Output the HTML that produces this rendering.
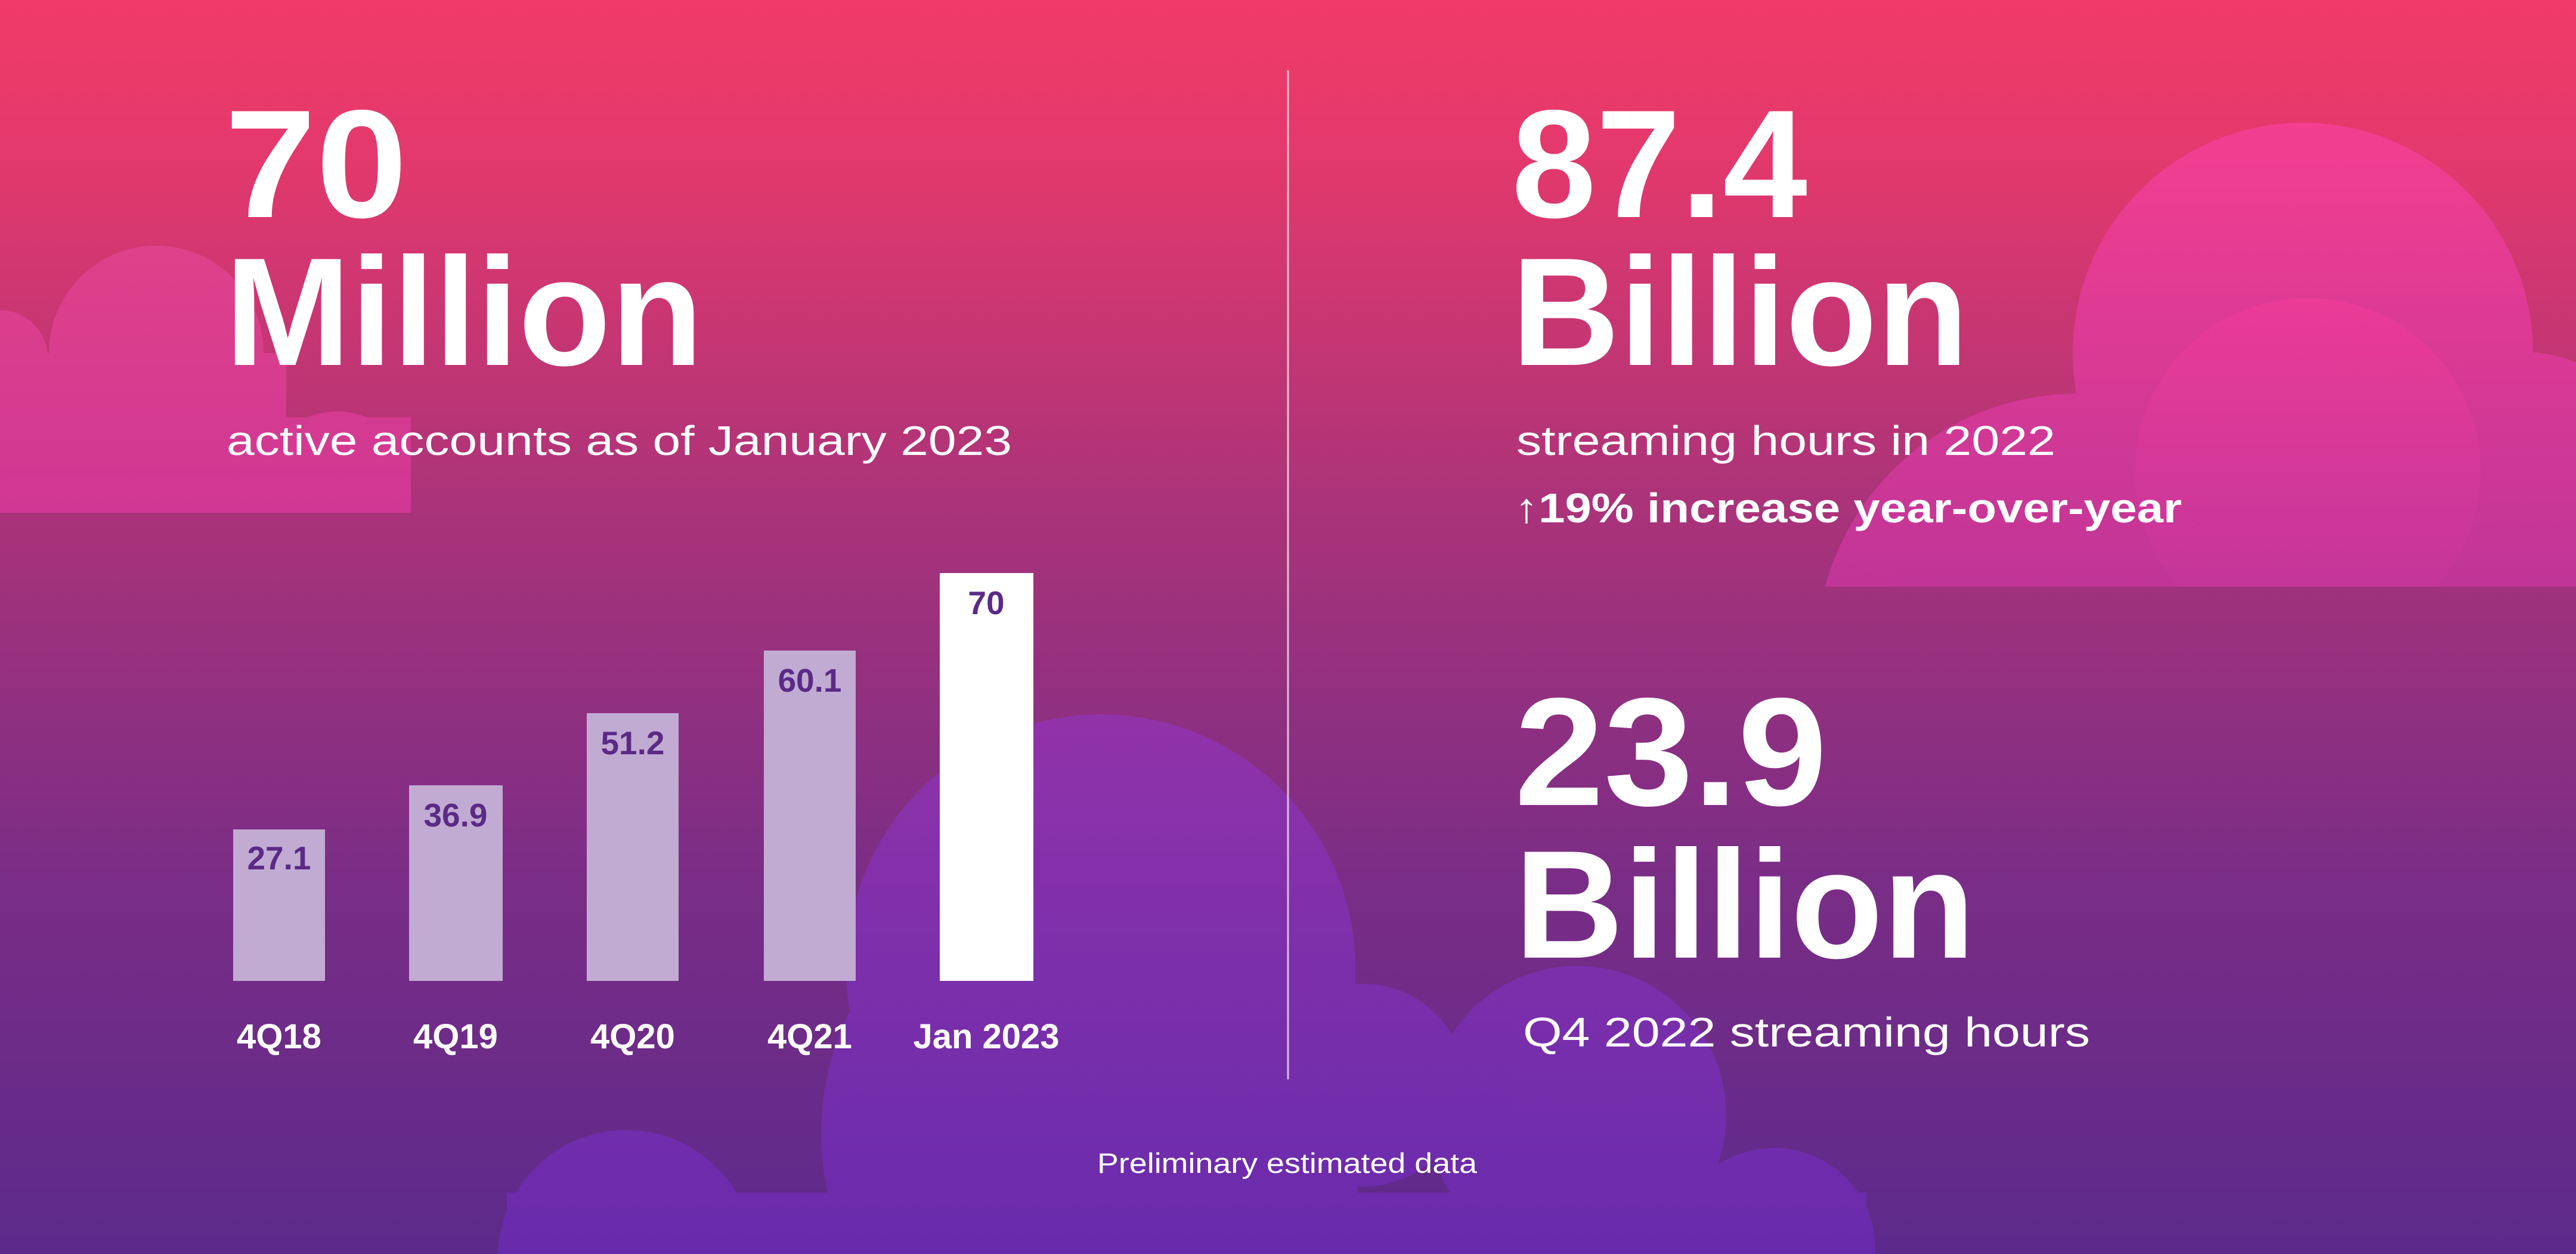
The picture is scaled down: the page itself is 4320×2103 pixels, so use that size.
<!DOCTYPE html>
<html><head><meta charset="utf-8"><style>
html,body{margin:0;padding:0;width:4320px;height:2103px;overflow:hidden}
svg{display:block}
text{font-family:"Liberation Sans",sans-serif;fill:#fff}
</style></head><body>
<svg width="4320" height="2103" viewBox="0 0 4320 2103" xmlns="http://www.w3.org/2000/svg">
<defs>
<linearGradient id="bg" x1="0" y1="0" x2="0" y2="1">
<stop offset="0" stop-color="#f03a68"/>
<stop offset="0.12" stop-color="#e4396c"/>
<stop offset="0.4" stop-color="#ab3379"/>
<stop offset="0.7" stop-color="#7a2d86"/>
<stop offset="1" stop-color="#5c2a8b"/>
</linearGradient>
<linearGradient id="cl" gradientUnits="userSpaceOnUse" x1="0" y1="410" x2="0" y2="860">
<stop offset="0" stop-color="#e0448e"/>
<stop offset="1" stop-color="#d8389a"/>
</linearGradient>
<linearGradient id="cr" gradientUnits="userSpaceOnUse" x1="0" y1="200" x2="0" y2="984">
<stop offset="0" stop-color="#f7409a"/>
<stop offset="1" stop-color="#c9369f"/>
</linearGradient>
<linearGradient id="cr2" gradientUnits="userSpaceOnUse" x1="0" y1="400" x2="0" y2="984">
<stop offset="0" stop-color="#ff3d98"/>
<stop offset="1" stop-color="#c8369e"/>
</linearGradient>
<linearGradient id="cb" gradientUnits="userSpaceOnUse" x1="0" y1="1200" x2="0" y2="2103">
<stop offset="0" stop-color="#9234b6"/>
<stop offset="1" stop-color="#6c2cb8"/>
</linearGradient>
<clipPath id="clipL"><rect x="0" y="0" width="689" height="860"/></clipPath>
<clipPath id="clipR"><rect x="0" y="0" width="4320" height="984"/></clipPath>
</defs>
<rect width="4320" height="2103" fill="url(#bg)"/>
<!-- left cloud -->
<g fill="url(#cl)" opacity="0.85" clip-path="url(#clipL)">
<circle cx="262" cy="592" r="180"/>
<circle cx="0" cy="600" r="80"/>
<circle cx="565" cy="820" r="130"/>
<rect x="0" y="592" width="480" height="268"/>
<rect x="480" y="700" width="209" height="160"/>
</g>
<!-- right cloud -->
<g fill="url(#cr)" opacity="0.8" clip-path="url(#clipR)">
<circle cx="3862" cy="592" r="386"/>
<circle cx="3485" cy="1100" r="440"/>
<circle cx="4230" cy="830" r="240"/>
<rect x="3300" y="700" width="1020" height="284"/>
</g>
<g fill="url(#cr2)" opacity="0.5" clip-path="url(#clipR)">
<circle cx="3870" cy="790" r="290"/>
</g>
<!-- bottom clouds -->
<g fill="url(#cb)" opacity="0.75">
<circle cx="1846" cy="1625" r="427"/>
<circle cx="1832" cy="1900" r="455"/>
<circle cx="2287" cy="1820" r="170"/>
<circle cx="2645" cy="1870" r="250"/>
<circle cx="2975" cy="2095" r="170"/>
<circle cx="1050" cy="2110" r="215"/>
<rect x="850" y="2000" width="2280" height="103"/>
</g>
<!-- divider -->
<line x1="2160" y1="118" x2="2160" y2="1810" stroke="#fff" stroke-opacity="0.7" stroke-width="3"/>
<!-- left text -->
<text x="377" y="364" font-size="258" font-weight="bold" textLength="306" lengthAdjust="spacingAndGlyphs">70</text>
<text x="377" y="612" font-size="258" font-weight="bold" textLength="802" lengthAdjust="spacingAndGlyphs">Million</text>
<text x="380" y="763" font-size="70" textLength="1317" lengthAdjust="spacingAndGlyphs">active accounts as of January 2023</text>
<!-- bars -->
<g fill="#c2abd3">
<rect x="391" y="1391" width="154" height="254"/>
<rect x="686" y="1317" width="157" height="328"/>
<rect x="984" y="1196" width="154" height="449"/>
<rect x="1281" y="1091" width="154" height="554"/>
</g>
<rect x="1576" y="961" width="157" height="684" fill="#fff"/>
<g font-size="55" font-weight="bold" text-anchor="middle">
<text x="468" y="1458" style="fill:#5b2a86">27.1</text>
<text x="764" y="1386" style="fill:#5b2a86">36.9</text>
<text x="1061" y="1265" style="fill:#5b2a86">51.2</text>
<text x="1358" y="1160" style="fill:#5b2a86">60.1</text>
<text x="1654" y="1030" style="fill:#5b2a86">70</text>
</g>
<g font-size="58" font-weight="bold" text-anchor="middle">
<text x="468" y="1758">4Q18</text>
<text x="764" y="1758">4Q19</text>
<text x="1061" y="1758">4Q20</text>
<text x="1358" y="1758">4Q21</text>
<text x="1654" y="1758">Jan 2023</text>
</g>
<!-- right text -->
<text x="2535" y="364" font-size="258" font-weight="bold" textLength="496" lengthAdjust="spacingAndGlyphs">87.4</text>
<text x="2535" y="612" font-size="258" font-weight="bold" textLength="766" lengthAdjust="spacingAndGlyphs">Billion</text>
<text x="2543" y="763" font-size="70" textLength="904" lengthAdjust="spacingAndGlyphs">streaming hours in 2022</text>
<text x="2540" y="876" font-size="70" font-weight="bold" textLength="1119" lengthAdjust="spacingAndGlyphs">↑19% increase year-over-year</text>
<text x="2540" y="1350" font-size="258" font-weight="bold" textLength="524" lengthAdjust="spacingAndGlyphs">23.9</text>
<text x="2540" y="1606" font-size="258" font-weight="bold" textLength="772" lengthAdjust="spacingAndGlyphs">Billion</text>
<text x="2554" y="1755" font-size="70" textLength="951" lengthAdjust="spacingAndGlyphs">Q4 2022 streaming hours</text>
<text x="1840" y="1967" font-size="47" textLength="637" lengthAdjust="spacingAndGlyphs">Preliminary estimated data</text>
</svg>
</body></html>
